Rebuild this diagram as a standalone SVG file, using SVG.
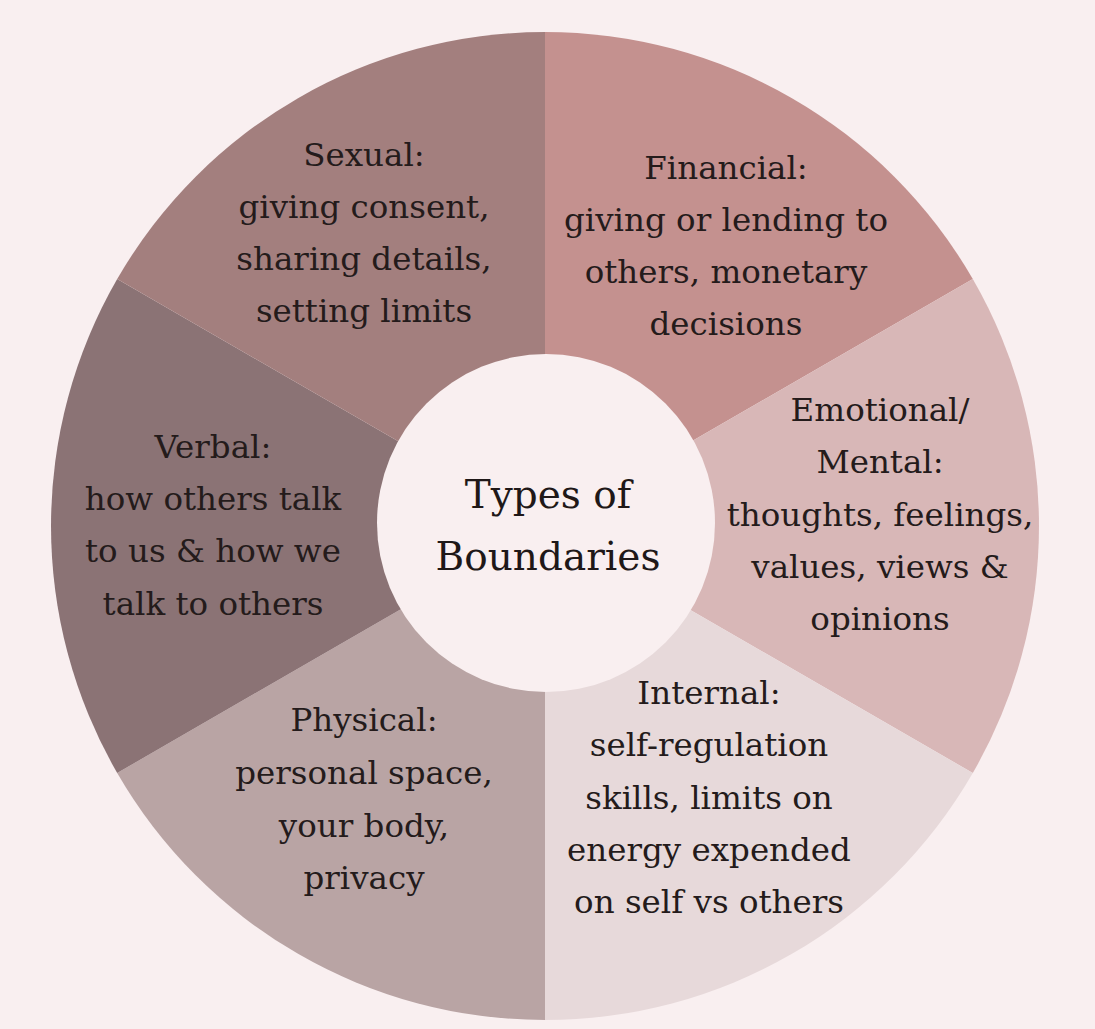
<svg xmlns="http://www.w3.org/2000/svg" width="1095" height="1029" viewBox="0 0 1095 1029">
<style>
.t{font-family:"DejaVu Serif","Liberation Serif",serif;font-size:32.5px;fill:#241b1b;text-anchor:middle}
.c{font-family:"DejaVu Serif","Liberation Serif",serif;font-size:39px;fill:#1f1818;text-anchor:middle}
</style>
<rect width="1095" height="1029" fill="#f9eff0"/>
<g id="connectors"></g>
<g id="financial">
<path d="M545,526 L545,32 A494,494 0 0 1 972.8,279 Z" fill="#c4918f"/>
<text class="t"><tspan x="726" y="179">Financial:</tspan><tspan x="726" y="231">giving or lending to</tspan><tspan x="726" y="283">others, monetary</tspan><tspan x="726" y="335">decisions</tspan></text>
</g>
<g id="emotional">
<path d="M545,526 L972.8,279 A494,494 0 0 1 972.8,773 Z" fill="#d8b7b7"/>
<text class="t"><tspan x="880" y="421">Emotional/</tspan><tspan x="880" y="473">Mental:</tspan><tspan x="880" y="526">thoughts, feelings,</tspan><tspan x="880" y="578">values, views &amp;</tspan><tspan x="880" y="630">opinions</tspan></text>
</g>
<g id="internal">
<path d="M545,526 L972.8,773 A494,494 0 0 1 545,1020 Z" fill="#e7d9da"/>
<text class="t"><tspan x="709" y="704">Internal:</tspan><tspan x="709" y="756">self-regulation</tspan><tspan x="709" y="809">skills, limits on</tspan><tspan x="709" y="861">energy expended</tspan><tspan x="709" y="913">on self vs others</tspan></text>
</g>
<g id="physical">
<path d="M545,526 L545,1020 A494,494 0 0 1 117.2,773 Z" fill="#b9a4a4"/>
<text class="t"><tspan x="364" y="731">Physical:</tspan><tspan x="364" y="784">personal space,</tspan><tspan x="364" y="837">your body,</tspan><tspan x="364" y="889">privacy</tspan></text>
</g>
<g id="verbal">
<path d="M545,526 L117.2,773 A494,494 0 0 1 117.2,279 Z" fill="#8b7375"/>
<text class="t"><tspan x="213" y="458">Verbal:</tspan><tspan x="213" y="510">how others talk</tspan><tspan x="213" y="562">to us &amp; how we</tspan><tspan x="213" y="615">talk to others</tspan></text>
</g>
<g id="sexual">
<path d="M545,526 L117.2,279 A494,494 0 0 1 545,32 Z" fill="#a37f7e"/>
<text class="t"><tspan x="364" y="166">Sexual:</tspan><tspan x="364" y="218">giving consent,</tspan><tspan x="364" y="270">sharing details,</tspan><tspan x="364" y="322">setting limits</tspan></text>
</g>
<g id="center">
<circle cx="546" cy="523" r="169" fill="#f9eff0"/>
<text class="c"><tspan x="548" y="508">Types of</tspan><tspan x="548" y="570">Boundaries</tspan></text>
</g>
</svg>
